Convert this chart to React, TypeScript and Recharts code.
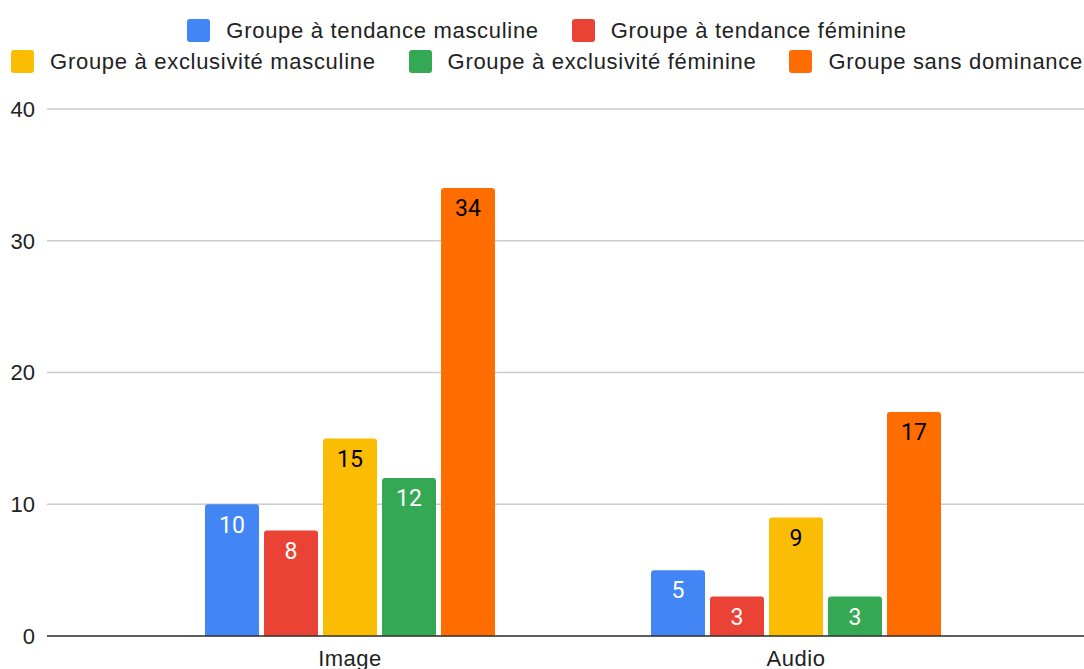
import React from 'react';
import { BarChart, Bar, XAxis, YAxis, CartesianGrid, Legend, LabelList } from 'recharts';

const categories = ['Image', 'Audio'];
const seriesNames = [
  'Groupe à tendance masculine',
  'Groupe à tendance féminine',
  'Groupe à exclusivité masculine',
  'Groupe à exclusivité féminine',
  'Groupe sans dominance',
];
const tendanceMasculine = [10, 5];
const tendanceFeminine = [8, 3];
const exclusiviteMasculine = [15, 9];
const exclusiviteFeminine = [12, 3];
const sansDominance = [34, 17];
const yTicks = [0, 10, 20, 30, 40];

const seriesValues = [tendanceMasculine, tendanceFeminine, exclusiviteMasculine, exclusiviteFeminine, sansDominance];
const colors = ['#4285F4', '#EA4335', '#FBBC04', '#34A853', '#FF6D01'];
const labelColors = ['#ffffff', '#ffffff', '#000000', '#ffffff', '#000000'];
const keys = ['s0', 's1', 's2', 's3', 's4'];

const data = categories.map((c, i) => {
  const row: Record<string, any> = { name: c };
  keys.forEach((k, j) => { row[k] = seriesValues[j][i]; });
  return row;
});

const textFont = '"Liberation Sans", Arial, sans-serif';

const LegendItem = ({ idx }: { idx: number }) => (
  <div style={{ display: 'flex', alignItems: 'center', margin: '0 16.5px' }}>
    <div style={{ width: 23, height: 23, borderRadius: 3, background: colors[idx], marginRight: 16 }} />
    <span style={{ fontFamily: textFont, fontSize: 22, letterSpacing: 0.7, color: '#222', whiteSpace: 'nowrap', lineHeight: '23px' }}>{seriesNames[idx]}</span>
  </div>
);

const CustomLegend = () => {
  const row1 = [0, 1];
  const row2 = [2, 3, 4];
  return (
    <div style={{ position: 'relative', width: 1084, height: 109 }}>
      <div style={{ position: 'absolute', top: 19, left: 5, width: 1084, display: 'flex', justifyContent: 'center' }}>
        {row1.map((i) => <LegendItem key={i} idx={i} />)}
      </div>
      <div style={{ position: 'absolute', top: 50, left: 5, width: 1084, display: 'flex', justifyContent: 'center' }}>
        {row2.map((i) => <LegendItem key={i} idx={i} />)}
      </div>
    </div>
  );
};

export default function App() {
  return (
    <div style={{ position: 'absolute', left: 0, top: 0 }}>
      <BarChart
        width={1084}
        height={669}
        data={data}
        margin={{ top: 0, right: 0, bottom: 0, left: 0 }}
        barSize={54}
        barGap={5}
      >
        <Legend verticalAlign="top" align="left" content={<CustomLegend />} wrapperStyle={{ left: 0, top: 0, width: 1084, height: 109 }} />
        <CartesianGrid vertical={false} stroke="#cccccc" strokeWidth={1.3} />
        <XAxis
          dataKey="name"
          height={33}
          padding={{ left: 80, right: 65 }}
          axisLine={{ stroke: '#333333', strokeWidth: 1.5 }}
          tickLine={false}
          tickSize={0}
          tickMargin={14}
          tick={{ fontFamily: textFont, fontSize: 22, fill: '#222', letterSpacing: 0.5 }}
        />
        <YAxis
          width={47}
          domain={[0, 40]}
          ticks={yTicks}
          axisLine={false}
          tickLine={false}
          tickSize={0}
          tickMargin={12}
          tick={{ fontFamily: textFont, fontSize: 22, fill: '#222' }}
        />
        {keys.map((k, j) => (
          <Bar key={k} dataKey={k} name={seriesNames[j]} fill={colors[j]} radius={[3, 3, 0, 0]} isAnimationActive={false}>
            <LabelList
              dataKey={k}
              position="insideTop"
              offset={12}
              fill={labelColors[j]}
              style={{ fontFamily: 'Roboto, sans-serif', fontSize: 23 }}
            />
          </Bar>
        ))}
      </BarChart>
    </div>
  );
}
